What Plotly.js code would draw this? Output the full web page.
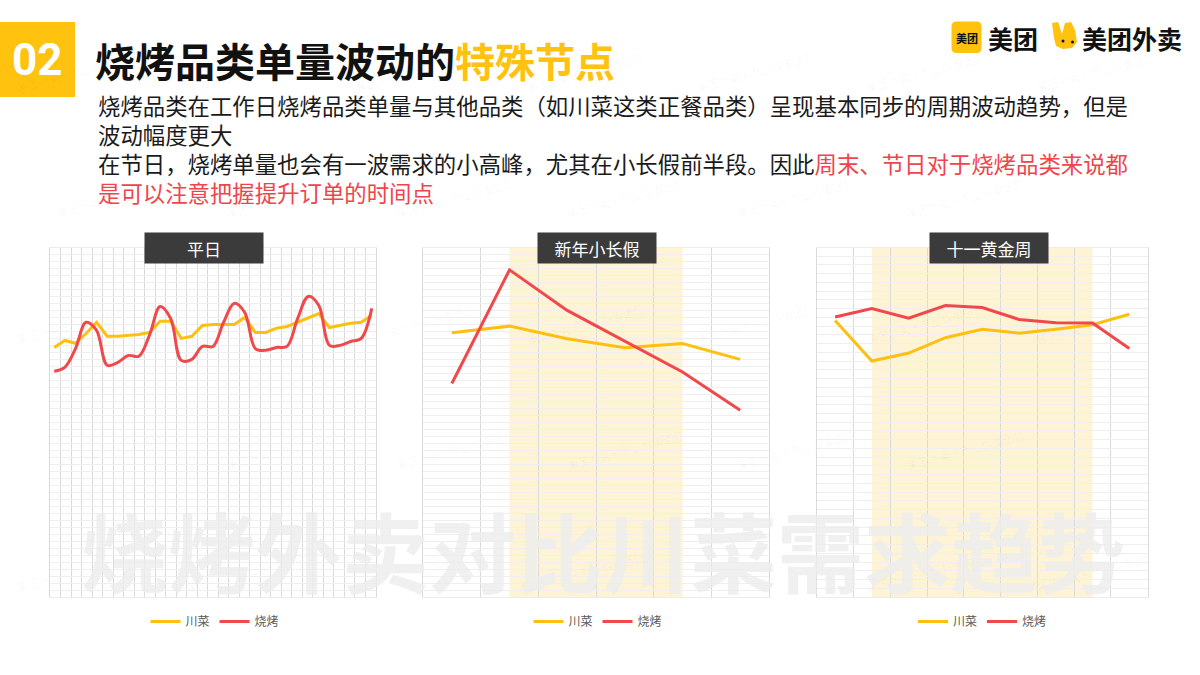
<!DOCTYPE html>
<html>
<head>
<meta charset="utf-8">
<script src="https://cdn.plot.ly/plotly-3.0.1.min.js"></script>
<style>html,body{margin:0;padding:0;background:#fff;}#chart{width:1200px;height:675px;}</style>
</head>
<body>
<div id="chart"></div>
<script>
// ---------- DATA ----------
const seriesNames = ['川菜', '烧烤'];
const panelTitles = ['平日', '新年小长假', '十一黄金周'];

// 平日 (one month of days)
const weekdayDays = [1,2,3,4,5,6,7,8,9,10,11,12,13,14,15,16,17,18,19,20,21,22,23,24,25,26,27,28,29,30,31];
const weekdaySichuan = [71.4,73.4,72.6,75.4,78.6,74.6,74.6,74.9,75.1,75.7,78.9,78.9,74.0,74.6,77.7,78.0,78.0,78.0,80.0,75.7,75.7,76.9,77.4,78.6,80.0,81.1,77.1,77.7,78.3,78.6,80.6];
const weekdayBBQ     = [64.6,65.7,71.0,78.6,76.3,66.3,67.1,69.1,68.9,74.9,83.1,79.7,67.7,68.0,71.7,71.7,78.6,84.0,81.4,71.1,70.6,71.4,71.7,79.7,86.0,83.4,72.0,72.0,73.1,74.0,82.6];

// 新年小长假
const nyDays = [1,2,3,4,5,6];
const nySichuan = [75.6,77.5,73.9,71.3,72.5,68.0];
const nyBBQ     = [61.1,93.6,82.0,73.1,64.4,53.4];
const nyHoliday = [2,5];

// 十一黄金周
const ndDays = [1,2,3,4,5,6,7,8,9];
const ndSichuan = [79.1,67.5,69.8,74.2,76.6,75.5,76.6,77.9,80.9];
const ndBBQ     = [80.1,82.5,79.8,83.4,82.8,79.4,78.5,78.4,71.1];
const ndHoliday = [2,8];

// ---------- STYLE ----------
const W = 1200, H = 675;
const px = x => x / W;
const py = y => 1 - y / H;
const YELLOW = '#FDC010';
const RED = '#F0484B';
const FONT = '"Noto Sans CJK SC", "Noto Sans", sans-serif';

const plotTop = 247.5, plotBottom = 597;
const yDom = [py(plotBottom), py(plotTop)];

function xAx(dom, range, dtick, tick0) {
  return {domain: dom, range: range, tick0: tick0, dtick: dtick, showgrid: true, gridcolor: '#dadada', gridwidth: 1,
    showticklabels: false, ticks: '', zeroline: false, showline: true, linecolor: '#ececec', mirror: true, fixedrange: true};
}
function yAx(anchor, dtick) {
  return {domain: yDom, range: [0, 100], tick0: 0, dtick: dtick, showgrid: true, gridcolor: '#efefef', gridwidth: 1,
    showticklabels: false, ticks: '', zeroline: false, showline: true, linecolor: '#dadada', mirror: true, anchor: anchor, fixedrange: true};
}

const traces = [];
function addPair(x, ySc, yBbq, xa, ya, leg, spline) {
  traces.push({x: x, y: ySc, name: seriesNames[0], type: 'scatter', mode: 'lines', xaxis: xa, yaxis: ya, legend: leg,
    line: {color: YELLOW, width: 3, shape: 'linear'}, hoverinfo: 'skip'});
  traces.push({x: x, y: yBbq, name: seriesNames[1], type: 'scatter', mode: 'lines', xaxis: xa, yaxis: ya, legend: leg,
    line: {color: RED, width: 3, shape: spline ? 'spline' : 'linear', smoothing: 1}, hoverinfo: 'skip'});
}
addPair(weekdayDays, weekdaySichuan, weekdayBBQ, 'x', 'y', 'legend', true);
addPair(nyDays, nySichuan, nyBBQ, 'x2', 'y2', 'legend2', false);
addPair(ndDays, ndSichuan, ndBBQ, 'x3', 'y3', 'legend3', false);

const legendBase = {orientation: 'h', xanchor: 'center', yanchor: 'middle', y: py(621.5), bgcolor: 'rgba(0,0,0,0)',
  font: {family: FONT, size: 12, color: '#595959'}, itemwidth: 30, traceorder: 'normal'};

const shapes = [
  {type: 'rect', xref: 'x2', yref: 'y2 domain', x0: nyHoliday[0], x1: nyHoliday[1], y0: 0, y1: 1,
    fillcolor: '#FFF3D6', line: {width: 0}, layer: 'below'},
  {type: 'rect', xref: 'x3', yref: 'y3 domain', x0: ndHoliday[0], x1: ndHoliday[1], y0: 0, y1: 1,
    fillcolor: '#FFF3D6', line: {width: 0}, layer: 'below'},
  // header number box
  {type: 'rect', xref: 'paper', yref: 'paper', x0: 0, x1: px(75), y0: py(97), y1: py(22), fillcolor: '#FFC20E', line: {width: 0}},
];

// logo rounded square
function roundRect(x0, y0, x1, y1, r) {
  const P = (x, y) => px(x) + ',' + py(y);
  return 'M' + P(x0 + r, y0) + ' L' + P(x1 - r, y0) + ' Q' + P(x1, y0) + ' ' + P(x1, y0 + r) +
    ' L' + P(x1, y1 - r) + ' Q' + P(x1, y1) + ' ' + P(x1 - r, y1) + ' L' + P(x0 + r, y1) +
    ' Q' + P(x0, y1) + ' ' + P(x0, y1 - r) + ' L' + P(x0, y0 + r) + ' Q' + P(x0, y0) + ' ' + P(x0 + r, y0) + ' Z';
}
shapes.push({type: 'path', xref: 'paper', yref: 'paper', path: roundRect(951.5, 21.5, 981.5, 53, 5), fillcolor: '#FFC20E', line: {width: 0}});
// kangaroo mascot (simplified)
function poly(pts) {
  return 'M' + pts.map(p => px(p[0]) + ',' + py(p[1])).join(' L') + ' Z';
}
shapes.push({type: 'path', xref: 'paper', yref: 'paper',
  path: poly([[1052,23],[1058,22],[1062,34],[1065,23],[1071,22],[1075,30],[1077,42],[1072,48],[1063,49],[1056,46],[1054,38]]),
  fillcolor: '#FFC20E', line: {width: 0}});
shapes.push({type: 'circle', xref: 'paper', yref: 'paper', x0: px(1061.5), x1: px(1064.5), y0: py(42.5), y1: py(39.5), fillcolor: '#111', line: {width: 0}});
shapes.push({type: 'circle', xref: 'paper', yref: 'paper', x0: px(1071), x1: px(1074), y0: py(43.5), y1: py(40.5), fillcolor: '#111', line: {width: 0}});

const annotations = [];
function txt(text, x, y, size, color, opts) {
  annotations.push(Object.assign({xref: 'paper', yref: 'paper', x: px(x), y: py(y), text: text, showarrow: false,
    xanchor: 'left', yanchor: 'middle', font: {family: FONT, size: size, color: color}}, opts || {}));
}

// faint background watermarks
const wmRows = [72, 198, 324, 450, 572];
const wmCols = [75, 245, 415, 585, 755, 925, 1095];
wmRows.forEach((r, i) => wmCols.forEach((c, j) => {
  const cx = c + (i % 2) * 40;
  if (cx > 1120) return;
  txt('美团外卖·商业增值运营', cx, r, 11, 'rgba(0,0,0,0.04)', {xanchor: 'center', textangle: -15});
}));

// big watermark
txt('烧烤外卖对比川菜需求趋势', 603, 549, 87, 'rgba(236,236,236,0.8)', {xanchor: 'center', font: {family: FONT, size: 87, color: 'rgba(236,236,236,0.8)', weight: 700}});

// header
txt('02', 37.5, 60, 44, '#ffffff', {xanchor: 'center', font: {family: 'Roboto, sans-serif', size: 44, color: '#ffffff', weight: 700}});
txt('烧烤品类单量波动的<span style="color:#FFC20E">特殊节点</span>', 93, 60, 40, '#111111', {font: {family: FONT, size: 40, color: '#111111', weight: 700}});

// body text
const bodyText = '烧烤品类在工作日烧烤品类单量与其他品类（如川菜这类正餐品类）呈现基本同步的周期波动趋势，但是<br>' +
  '波动幅度更大<br>' +
  '在节日，烧烤单量也会有一波需求的小高峰，尤其在小长假前半段。因此<span style="color:#F0444C">周末、节日对于烧烤品类来说都</span><br>' +
  '<span style="color:#F0444C">是可以注意把握提升订单的时间点</span>';
txt(bodyText, 96, 148.5, 22.4, '#1a1a1a', {align: 'left'});

// logo texts
txt('美团', 966.5, 37.5, 11, '#111', {xanchor: 'center', font: {family: FONT, size: 11, color: '#111', weight: 700}});
txt('美团', 986, 37.5, 25, '#111', {font: {family: FONT, size: 25, color: '#111', weight: 700}});
txt('美团外卖', 1080, 37.5, 25, '#111', {font: {family: FONT, size: 25, color: '#111', weight: 700}});

// panel title boxes
const boxCenters = [203.5, 596.5, 989];
panelTitles.forEach((t, i) => {
  annotations.push({xref: 'paper', yref: 'paper', x: px(boxCenters[i]), y: py(248.3), text: t, showarrow: false,
    xanchor: 'center', yanchor: 'middle', width: 112, height: 24, borderpad: 3, bgcolor: '#3b3b3b',
    font: {family: FONT, size: 17, color: '#ffffff'}, align: 'center'});
});

const layout = {
  width: W, height: H, margin: {l: 0, r: 0, t: 0, b: 0},
  paper_bgcolor: '#ffffff', plot_bgcolor: 'rgba(0,0,0,0)',
  font: {family: FONT},
  showlegend: true,
  xaxis: xAx([px(50), px(376)], [0.6, 31.4], 30.8 / 31, 0.6),
  yaxis: yAx('x', 2),
  xaxis2: xAx([px(423), px(769)], [0.5, 6.5], 1, 0.5),
  yaxis2: yAx('x2', 2),
  xaxis3: xAx([px(816.7), px(1147.7)], [0.5, 9.5], 1, 0.5),
  yaxis3: yAx('x3', 2.5),
  legend: Object.assign({}, legendBase, {x: px(215)}),
  legend2: Object.assign({}, legendBase, {x: px(598)}),
  legend3: Object.assign({}, legendBase, {x: px(982.5)}),
  shapes: shapes,
  annotations: annotations,
};
layout.xaxis.anchor = 'y';
layout.xaxis2.anchor = 'y2';
layout.xaxis3.anchor = 'y3';

Plotly.newPlot('chart', traces, layout, {displayModeBar: false, staticPlot: true});
</script>
</body>
</html>
